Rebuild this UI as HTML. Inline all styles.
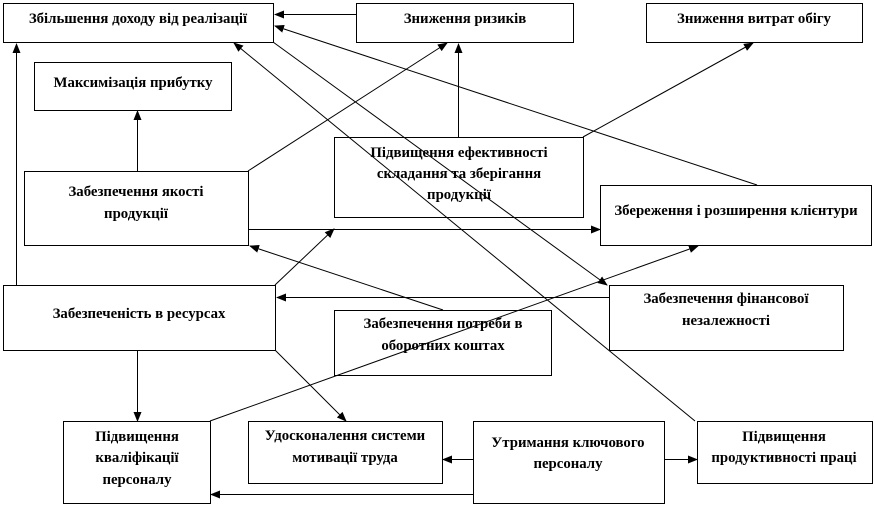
<!DOCTYPE html>
<html><head><meta charset="utf-8"><style>
html,body{margin:0;padding:0;background:#fff;}
svg text{font-family:"Liberation Serif",serif;font-weight:bold;font-size:14.8px;fill:#000;text-anchor:middle;}
</style></head><body>
<svg width="875" height="506" viewBox="0 0 875 506" xmlns="http://www.w3.org/2000/svg">
<defs><marker id="a" markerWidth="10" markerHeight="8" refX="9" refY="4" orient="auto" markerUnits="userSpaceOnUse"><path d="M0,0 L10,4 L0,8 z" fill="#000"/></marker></defs>
<g fill="none" stroke="#000" stroke-width="1">
<rect x="3.5" y="3.5" width="270" height="39"/>
<rect x="356.5" y="3.5" width="217" height="39"/>
<rect x="646.5" y="3.5" width="216" height="39"/>
<rect x="34.5" y="62.5" width="197" height="48"/>
<rect x="24.5" y="171.5" width="224" height="74"/>
<rect x="334.5" y="137.5" width="249" height="80"/>
<rect x="600.5" y="185.5" width="271" height="60"/>
<rect x="3.5" y="285.5" width="272" height="65"/>
<rect x="334.5" y="310.5" width="217" height="65"/>
<rect x="609.5" y="285.5" width="234" height="65"/>
<rect x="63.5" y="421.5" width="147" height="82"/>
<rect x="248.5" y="421.5" width="194" height="62"/>
<rect x="473.5" y="421.5" width="191" height="82"/>
<rect x="697.5" y="421.5" width="175" height="62"/>
</g>
<g stroke="#000" stroke-width="1" marker-end="url(#a)">
<line x1="356" y1="14.5" x2="275" y2="14.5"/>
<line x1="757" y1="185" x2="275" y2="26"/>
<line x1="273" y1="42" x2="607" y2="285"/>
<line x1="695" y1="421" x2="234" y2="43"/>
<line x1="248" y1="171" x2="447" y2="43"/>
<line x1="458.5" y1="137" x2="458.5" y2="44"/>
<line x1="583" y1="137" x2="753" y2="43"/>
<line x1="137.5" y1="171" x2="137.5" y2="111"/>
<line x1="16.5" y1="285" x2="16.5" y2="44"/>
<line x1="249" y1="229.5" x2="600" y2="229.5"/>
<line x1="275" y1="285" x2="334" y2="229"/>
<line x1="443" y1="310" x2="250" y2="246"/>
<line x1="609" y1="297.5" x2="277" y2="297.5"/>
<line x1="210" y1="421" x2="698" y2="246"/>
<line x1="137.5" y1="350" x2="137.5" y2="421"/>
<line x1="275" y1="350" x2="346" y2="421"/>
<line x1="473" y1="459.5" x2="443" y2="459.5"/>
<line x1="664" y1="459.5" x2="697" y2="459.5"/>
<line x1="473" y1="494.5" x2="211" y2="494.5"/>
</g>
<text x="138" y="23">Збільшення  доходу від реалізації</text>
<text x="465" y="23">Зниження ризиків</text>
<text x="754" y="23">Зниження витрат обігу</text>
<text x="133" y="87">Максимізація  прибутку</text>
<text x="136" y="196">Забезпечення якості</text>
<text x="136" y="218">продукції</text>
<text x="459" y="157">Підвищення  ефективності</text>
<text x="459" y="178">складання  та зберігання</text>
<text x="459" y="199">продукції</text>
<text x="736" y="215">Збереження і розширення клієнтури</text>
<text x="139" y="318">Забезпеченість в ресурсах</text>
<text x="443" y="328">Забезпечення потреби в</text>
<text x="443" y="350">оборотних коштах</text>
<text x="726" y="303">Забезпечення фінансової</text>
<text x="726" y="325">незалежності</text>
<text x="137" y="441">Підвищення</text>
<text x="137" y="462">кваліфікації</text>
<text x="137" y="484">персоналу</text>
<text x="345" y="440">Удосконалення системи</text>
<text x="345" y="462">мотивації труда</text>
<text x="568" y="447">Утримання ключового</text>
<text x="568" y="468">персоналу</text>
<text x="784" y="441">Підвищення</text>
<text x="784" y="462">продуктивності праці</text>
</svg>
</body></html>
